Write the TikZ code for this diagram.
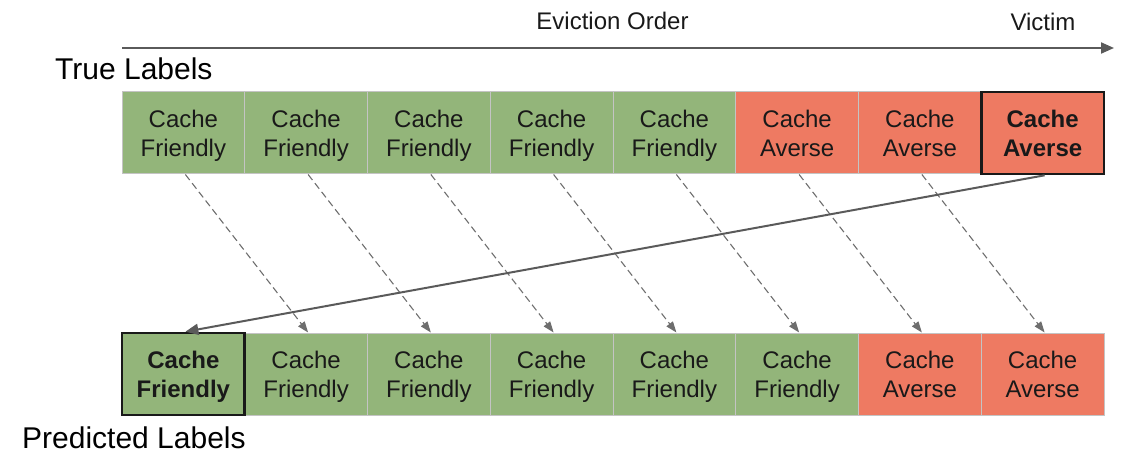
\documentclass[tikz,border=0pt]{standalone}
\usepackage{fontspec}
\setmainfont{Liberation Sans}
\usetikzlibrary{arrows.meta}
\definecolor{fgreen}{HTML}{93B57A}
\definecolor{fred}{HTML}{EE7A62}
\definecolor{boxline}{HTML}{C4C4C4}
\definecolor{arrowgray}{HTML}{5A5A5A}
\definecolor{dashgray}{HTML}{6E6E6E}
\tikzset{
  cell/.style={draw=boxline, line width=1pt, minimum width=122.75pt, minimum height=82pt,
    inner sep=0pt, align=center, font=\fontsize{24}{29}\selectfont, text=black!90},
  friendly/.style={cell, fill=fgreen},
  averse/.style={cell, fill=fred},
  chosen/.style={draw=black!90, line width=2.6pt, font=\fontsize{24}{29}\selectfont\bfseries},
  dasharrow/.style={draw=dashgray, line width=1.1pt, dash pattern=on 7pt off 4pt,
    -{Triangle[length=11pt,width=8pt]}},
  mainarrow/.style={draw=arrowgray, line width=2pt, -{Triangle[length=13pt,width=11pt]}},
  title/.style={font=\fontsize{30}{36}\selectfont, inner sep=0pt},
  toplabel/.style={font=\fontsize{24}{29}\selectfont, inner sep=0pt, text=black!90}
}
\begin{document}
\begin{tikzpicture}[x=1pt,y=-1pt]
\useasboundingbox (0,0) rectangle (1147,473);
% eviction order arrow
\coordinate (ea) at (122,48);
\coordinate (eb) at (1114,48);
\draw[mainarrow] (ea) -- (eb);
\node[toplabel, anchor=base] (eo) at (612.5,30) {Eviction Order};
\node[toplabel, anchor=base] (vi) at (1043,31) {Victim};
\node[title, anchor=base west] (tl) at (55,80) {True Labels};
\node[title, anchor=base west] (pl) at (22,448) {Predicted Labels};
% top row
\foreach \i/\s in {0/friendly,1/friendly,2/friendly,3/friendly,4/friendly,5/averse,6/averse}{
  \ifnum\i<5
    \node[\s] (t\i) at ({122+122.75*(\i+0.5)},133) {Cache\\\smash{Friendly}};
  \else
    \node[\s] (t\i) at ({122+122.75*(\i+0.5)},133) {Cache\\\smash{Averse}};
  \fi
}
\node[averse, chosen] (t7) at ({122+122.75*7.5},133) {Cache\\\smash{Averse}};
% bottom row
\foreach \i in {1,...,5}{
  \node[friendly] (b\i) at ({122+122.75*(\i+0.5)},374) {Cache\\\smash{Friendly}};
}
\node[averse] (b6) at ({122+122.75*6.5},374) {Cache\\\smash{Averse}};
\node[averse] (b7) at ({122+122.75*7.5},374) {Cache\\\smash{Averse}};
\node[friendly, chosen] (b0) at ({122+122.75*0.5},374) {Cache\\\smash{Friendly}};
% dashed arrows
\foreach \i [evaluate=\i as \j using int(\i+1)] in {0,...,6}{
  \draw[dasharrow] ([xshift=2pt]t\i.south) -- ([xshift=2pt]b\j.north);
}
% main arrow
\draw[mainarrow] ([xshift=2pt]t7.south) -- ([xshift=2pt]b0.north);
\end{tikzpicture}
\end{document}
